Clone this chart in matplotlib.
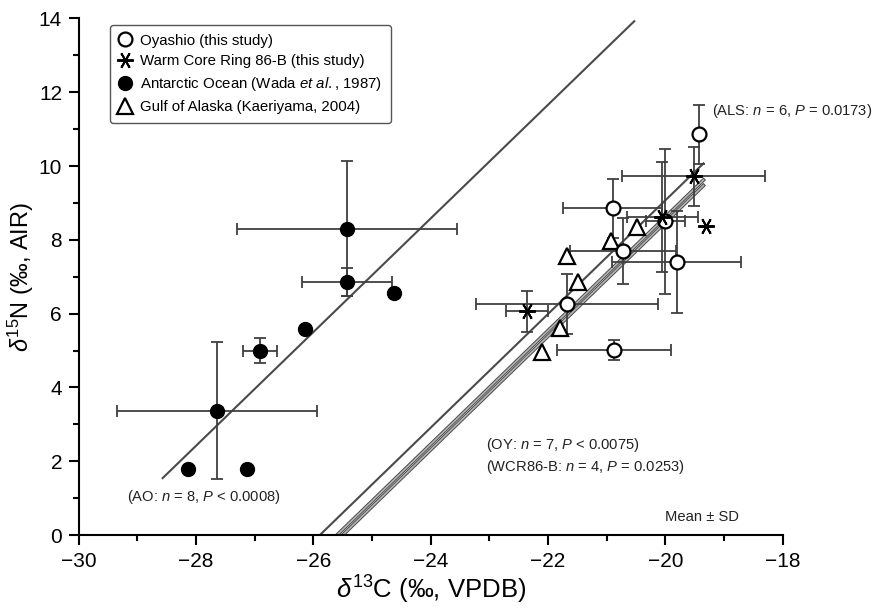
import numpy as np
import matplotlib
matplotlib.use("Agg")
import matplotlib.pyplot as plt
from matplotlib.lines import Line2D
from matplotlib.ticker import MultipleLocator
import matplotlib.patheffects as pe

plt.rcParams['font.family'] = ['Liberation Sans', 'DejaVu Sans']
plt.rcParams['mathtext.fontset'] = 'custom'
plt.rcParams['mathtext.rm'] = 'Liberation Sans'
plt.rcParams['mathtext.it'] = 'Liberation Sans:italic'
plt.rcParams['mathtext.bf'] = 'Liberation Sans:bold'

nan = np.nan

# --- Oyashio (this study), mean +- SD
oy_c = [-19.42, -20.90, -20.00, -19.81, -20.72, -21.67, -20.88]
oy_n = [10.86, 8.85, 8.50, 7.40, 7.70, 6.26, 5.02]
oy_c_sd = [nan, 0.85, 0.33, 1.10, 0.90, 1.55, 0.97]
oy_n_sd = [0.80, 0.80, 1.97, 1.38, 0.90, 0.80, 0.27]

# --- Warm Core Ring 86-B (this study)
wcr_c = [-19.52, -19.30, -22.36, -20.05]
wcr_n = [9.72, 8.38, 6.06, 8.62]
wcr_c_sd = [1.22, nan, 0.36, 0.60]
wcr_n_sd = [0.80, nan, 0.56, 1.50]

# --- Antarctic Ocean (Wada et al., 1987)
ao_c = [-25.43, -25.43, -24.62, -26.14, -26.91, -27.64, -28.14, -27.13]
ao_n = [8.30, 6.86, 6.57, 5.57, 5.00, 3.37, 1.78, 1.78]
ao_c_sd = [1.88, 0.77, nan, nan, 0.29, 1.70, nan, nan]
ao_n_sd = [1.83, 0.37, nan, nan, 0.35, 1.85, nan, nan]

# --- Gulf of Alaska (Kaeriyama, 2004)
als_c = [-20.49, -20.93, -21.68, -21.49, -21.80, -22.11]
als_n = [8.36, 7.97, 7.56, 6.87, 5.60, 4.97]

# regression lines: y = slope * x + intercept, drawn between x0 and x1
fit_names = ['AO', 'ALS', 'OY', 'WCR']
fit_slope = [1.54, 1.54, 1.54, 1.54]
fit_icpt = [45.54, 39.87, 39.27, 39.42]
fit_x0 = [-28.57, -25.95, -25.60, -25.70]
fit_x1 = [-20.53, -19.35, -19.35, -19.35]

fig = plt.figure(figsize=(8.75, 6.13), dpi=100)
ax = fig.add_axes([0.090, 0.1272, 0.8045, 0.8428])

err_kw = dict(fmt='none', ecolor='#404040', elinewidth=1.3, capsize=4,
              capthick=1.3, zorder=2)

# fit lines (OY and WCR drawn as hollow grey lines)
for name, s, b, x0, x1 in zip(fit_names, fit_slope, fit_icpt, fit_x0, fit_x1):
    xs = np.array([x0, x1])
    ys = s * xs + b
    if name in ('OY', 'WCR'):
        ax.plot(xs, ys, color='#b4b4b4', lw=1.2, zorder=1.5,
                path_effects=[pe.Stroke(linewidth=2.6, foreground='#4a4a4a'),
                              pe.Normal()])
    else:
        ax.plot(xs, ys, color='#4a4a4a', lw=1.5, zorder=1.5)

ax.errorbar(ao_c, ao_n, xerr=ao_c_sd, yerr=ao_n_sd, **err_kw)
ax.errorbar(oy_c, oy_n, xerr=oy_c_sd, yerr=oy_n_sd, **err_kw)
ax.errorbar(wcr_c, wcr_n, xerr=wcr_c_sd, yerr=wcr_n_sd, **err_kw)

asterisk = (6, 2, 90)
ax.plot(als_c, als_n, ls='none', marker='^', ms=11, mfc='white', mec='black',
        mew=1.6, zorder=3)
ax.plot(ao_c, ao_n, ls='none', marker='o', ms=10, mfc='black', mec='black',
        zorder=3)
ax.plot(oy_c, oy_n, ls='none', marker='o', ms=10, mfc='white', mec='black',
        mew=1.6, zorder=3)
ax.plot(wcr_c, wcr_n, ls='none', marker=asterisk, ms=12, mec='black',
        mew=1.4, zorder=4)

ax.set_xlim(-30, -18)
ax.set_ylim(0, 14)
ax.xaxis.set_major_locator(MultipleLocator(2))
ax.xaxis.set_minor_locator(MultipleLocator(1))
ax.yaxis.set_major_locator(MultipleLocator(2))
ax.yaxis.set_minor_locator(MultipleLocator(1))
for sp in ['top', 'right']:
    ax.spines[sp].set_visible(False)
for sp in ['left', 'bottom']:
    ax.spines[sp].set_linewidth(1.5)
ax.tick_params(which='major', direction='out', length=7, width=1.5,
               labelsize=15, pad=5)
ax.tick_params(which='minor', direction='out', length=4, width=1.5)

ax.set_xlabel(r'$\delta^{13}$C (‰, VPDB)', fontsize=18.5, labelpad=2)
ax.set_ylabel(r'$\delta^{15}$N (‰, AIR)', fontsize=17, labelpad=2)

txt = dict(fontsize=10.6, color='#222222', va='center', ha='left')
ax.text(-19.21, 11.49, r'(ALS: $n$ = 6, $P$ = 0.0173)', **txt)
ax.text(-29.18, 1.04, r'(AO: $n$ = 8, $P$ < 0.0008)', **txt)
ax.text(-23.05, 2.44, r'(OY: $n$ = 7, $P$ < 0.0075)', **txt)
ax.text(-23.05, 1.85, r'(WCR86-B: $n$ = 4, $P$ = 0.0253)', **txt)
ax.text(-20.0, 0.5, 'Mean ± SD', **txt)

handles = [
    Line2D([], [], ls='none', marker='o', ms=10, mfc='white', mec='black', mew=1.6),
    Line2D([], [], ls='none', marker=asterisk, ms=12, mec='black', mew=1.4),
    Line2D([], [], ls='none', marker='o', ms=10, mfc='black', mec='black'),
    Line2D([], [], ls='none', marker='^', ms=11, mfc='white', mec='black', mew=1.6),
]
labels = [
    'Oyashio (this study)',
    'Warm Core Ring 86-B (this study)',
    r'Antarctic Ocean (Wada $et\ al.$, 1987)',
    'Gulf of Alaska (Kaeriyama, 2004)',
]
leg = ax.legend(handles, labels, loc='upper left', bbox_to_anchor=(0.044, 0.988),
                borderaxespad=0, fontsize=10.8, fancybox=True, framealpha=1,
                edgecolor='#555555', handlelength=0.8, handletextpad=0.6,
                labelspacing=0.45, borderpad=0.6)
leg.get_frame().set_linewidth(1.0)

fig.savefig('out.png', dpi=100)
